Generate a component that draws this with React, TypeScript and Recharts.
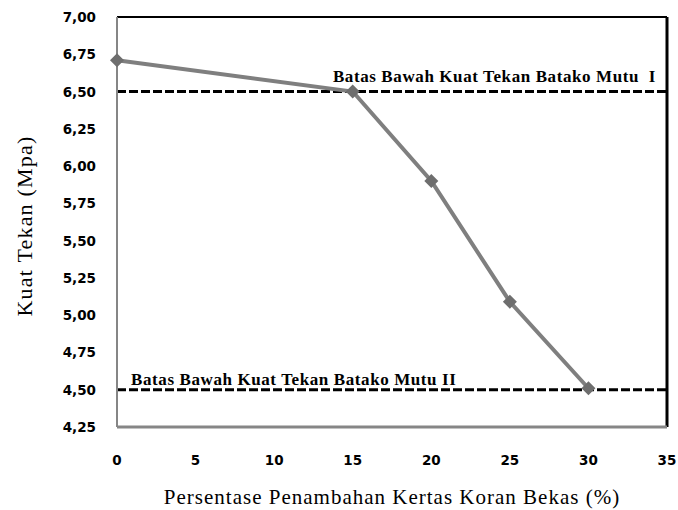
import React from 'react';
import {
  LineChart,
  Line,
  XAxis,
  YAxis,
  ReferenceLine,
  Label,
} from 'recharts';

const persen = [0, 15, 20, 25, 30];
const kuatTekan = [6.71, 6.5, 5.9, 5.09, 4.51];
const xTicks = [0, 5, 10, 15, 20, 25, 30, 35];
const yTicks = [4.25, 4.5, 4.75, 5.0, 5.25, 5.5, 5.75, 6.0, 6.25, 6.5, 6.75, 7.0];
const batasMutu1 = 6.5;
const batasMutu2 = 4.5;

const data = persen.map((p, i) => ({ persen: p, kuat: kuatTekan[i] }));

const serif = 'Liberation Serif';
const tickStyle = { fontFamily: 'DejaVu Sans', fontWeight: 700, fontSize: '13.5px' };

const XTick = (props: any) => {
  const { x, y, payload } = props;
  return (
    <text x={x} y={y + 36} textAnchor="middle" fill="#000" style={tickStyle}>
      {payload.value}
    </text>
  );
};

const YTick = (props: any) => {
  const { x, y, payload } = props;
  return (
    <text x={x - 19} y={y + 5} textAnchor="end" fill="#000" style={tickStyle}>
      {Number(payload.value).toFixed(2).replace('.', ',')}
    </text>
  );
};

const Diamond = (props: any) => {
  const { cx, cy } = props;
  if (cx == null || cy == null) return null;
  const r = 7;
  return (
    <path
      d={`M${cx},${cy - r} L${cx + r},${cy} L${cx},${cy + r} L${cx - r},${cy} Z`}
      fill="#6e6e6e"
    />
  );
};

function App() {
  return (
    <div style={{ position: 'absolute', left: 0, top: 0 }}>
      <LineChart
        width={678}
        height={510}
        data={data}
        margin={{ top: 17, right: 11, left: 0, bottom: 0 }}
      >
        <XAxis
          dataKey="persen"
          type="number"
          domain={[0, 35]}
          ticks={xTicks}
          height={83}
          tickSize={0}
          tick={<XTick />}
          stroke="#868686"
          strokeWidth={3}
        >
          <Label
            content={() => (
              <text
                x={392}
                y={497}
                textAnchor="middle"
                dominantBaseline="central"
                fill="#000"
                style={{ fontFamily: serif, fontSize: '21px', letterSpacing: '1px' }}
              >
                Persentase Penambahan Kertas Koran Bekas (%)
              </text>
            )}
          />
        </XAxis>
        <YAxis
          type="number"
          domain={[4.25, 7]}
          ticks={yTicks}
          width={117}
          tickSize={0}
          tick={<YTick />}
          stroke="#868686"
          strokeWidth={2}
          interval={0}
        >
          <Label
            content={() => (
              <text
                x={24}
                y={226}
                transform="rotate(-90, 24, 226)"
                textAnchor="middle"
                dominantBaseline="central"
                fill="#000"
                style={{ fontFamily: serif, fontSize: '22px', letterSpacing: '1.2px' }}
              >
                Kuat Tekan (Mpa)
              </text>
            )}
          />
        </YAxis>
        <ReferenceLine y={7} stroke="#000" strokeWidth={2} />
        <ReferenceLine x={35} stroke="#000" strokeWidth={3} />
        <ReferenceLine
          y={batasMutu1}
          stroke="#000"
          strokeWidth={3}
          strokeDasharray="9 3"
          label={(p: any) => (
            <text
              x={p.viewBox.x + p.viewBox.width - 11}
              y={p.viewBox.y - 10}
              textAnchor="end"
              fill="#000"
              style={{
                fontFamily: serif,
                fontWeight: 700,
                fontSize: '17px',
                letterSpacing: '0.6px',
                whiteSpace: 'pre',
              }}
            >
              {'Batas Bawah Kuat Tekan Batako Mutu  I'}
            </text>
          )}
        />
        <ReferenceLine
          y={batasMutu2}
          stroke="#000"
          strokeWidth={3}
          strokeDasharray="9 3"
          label={(p: any) => (
            <text
              x={p.viewBox.x + 14}
              y={p.viewBox.y - 5}
              textAnchor="start"
              fill="#000"
              style={{
                fontFamily: serif,
                fontWeight: 700,
                fontSize: '17px',
                letterSpacing: '0.6px',
              }}
            >
              Batas Bawah Kuat Tekan Batako Mutu II
            </text>
          )}
        />
        <Line
          type="linear"
          dataKey="kuat"
          stroke="#7f7f7f"
          strokeWidth={4}
          dot={<Diamond />}
          activeDot={false}
          isAnimationActive={false}
        />
      </LineChart>
    </div>
  );
}

export default App;
